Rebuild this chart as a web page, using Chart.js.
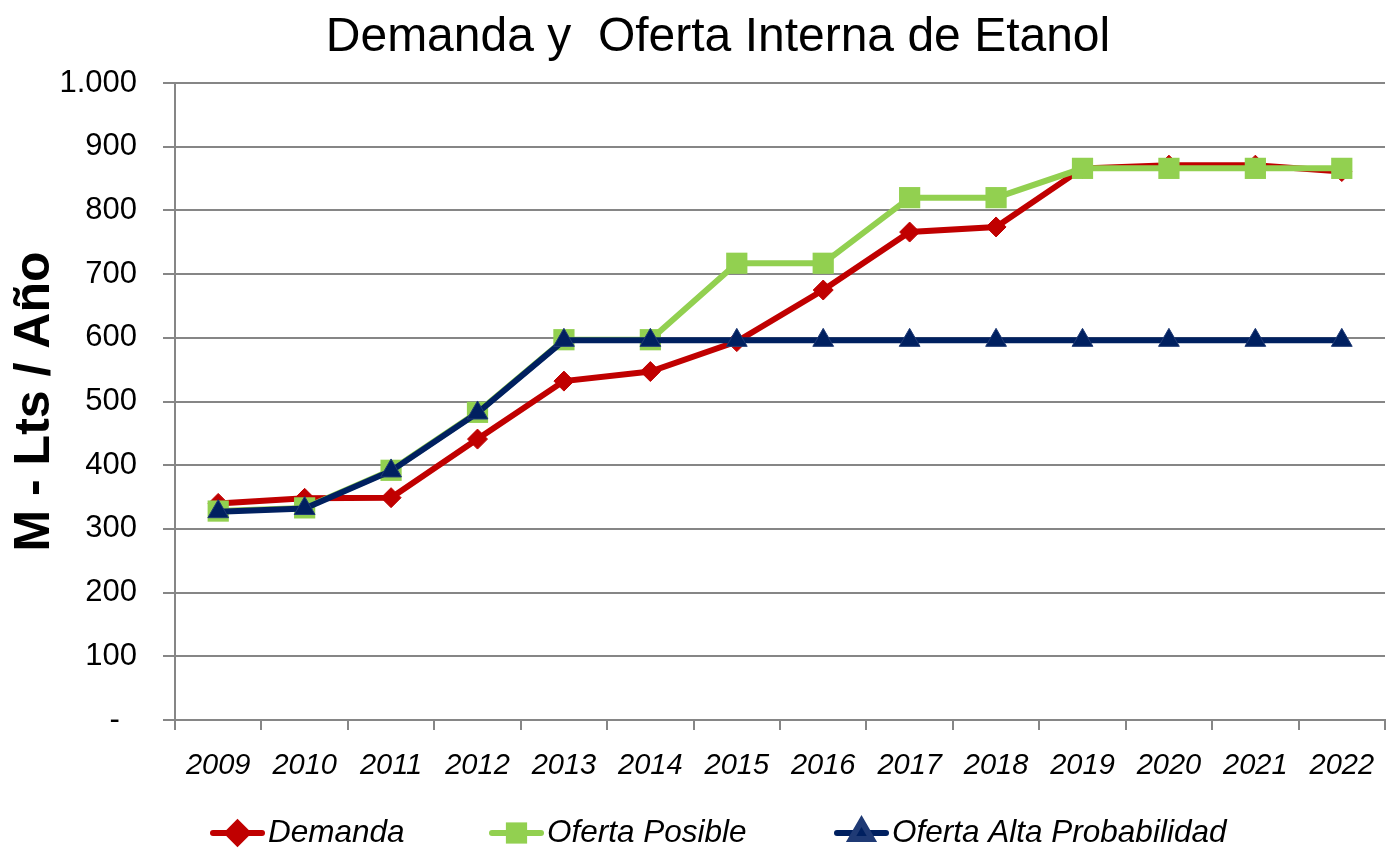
<!DOCTYPE html>
<html>
<head>
<meta charset="utf-8">
<script src="https://cdn.jsdelivr.net/npm/chart.js"></script>
<style>
  html, body { margin: 0; padding: 0; background: #fff; overflow: hidden; }
  #c { display: block; }
</style>
</head>
<body>
<canvas id="c" width="1400" height="848"></canvas>
<script>
const years = ['2009','2010','2011','2012','2013','2014','2015','2016','2017','2018','2019','2020','2021','2022'];
const demanda = [340, 348, 349, 441, 532, 547, 594, 675, 766, 774, 866, 871, 871, 861];
const ofertaPosible = [328, 333, 392, 483, 597, 597, 717, 717, 820, 820, 866, 866, 866, 866];
const ofertaAlta = [327, 332, 391, 482, 596, 596, 596, 596, 596, 596, 596, 596, 596, 596];
const yTickLabels = ['-  ', '100', '200', '300', '400', '500', '600', '700', '800', '900', '1.000'];
const seriesNames = ['Demanda', 'Oferta Posible', 'Oferta Alta Probabilidad'];

const FONT = "'Liberation Sans', Arial, sans-serif";
const GRID = '#868686';

const legendX = [210, 489, 834];
const customLegend = {
  id: 'customLegend',
  afterDraw(chart) {
    const ctx = chart.ctx;
    const y = 833;
    chart.data.datasets.forEach((ds, i) => {
      const x0 = legendX[i];
      ctx.save();
      ctx.strokeStyle = ds.borderColor;
      ctx.lineWidth = 6;
      ctx.lineCap = 'round';
      ctx.beginPath();
      ctx.moveTo(x0 + 3, y);
      ctx.lineTo(x0 + 52, y);
      ctx.stroke();
      ctx.fillStyle = ds.pointBackgroundColor;
      ctx.strokeStyle = ds.pointBorderColor;
      Chart.helpers.drawPoint(ctx, {
        pointStyle: ds.pointStyle,
        radius: ds.pointRadius,
        rotation: 0,
        borderWidth: ds.pointBorderWidth
      }, x0 + 27.5, y);
      ctx.fillStyle = '#000';
      ctx.font = 'italic 31.5px ' + FONT;
      ctx.textBaseline = 'middle';
      ctx.textAlign = 'left';
      ctx.fillText(seriesNames[i], x0 + 58, y);
      ctx.restore();
    });
  }
};

new Chart(document.getElementById('c'), {
  type: 'line',
  data: {
    labels: years,
    datasets: [
      {
        label: seriesNames[0], data: demanda, order: 3,
        borderColor: '#C00000', backgroundColor: '#C00000',
        pointBackgroundColor: '#C00000', pointBorderColor: '#C00000',
        borderWidth: 6, pointStyle: 'rectRot', pointRadius: 10, pointBorderWidth: 1,
        tension: 0, fill: false
      },
      {
        label: seriesNames[1], data: ofertaPosible, order: 2,
        borderColor: '#92D050', backgroundColor: '#92D050',
        pointBackgroundColor: '#92D050', pointBorderColor: '#92D050',
        borderWidth: 6, pointStyle: 'rect', pointRadius: 15, pointBorderWidth: 0,
        tension: 0, fill: false
      },
      {
        label: seriesNames[2], data: ofertaAlta, order: 1,
        borderColor: '#002060', backgroundColor: '#002060',
        pointBackgroundColor: '#002060', pointBorderColor: '#1F3A75',
        borderWidth: 6, pointStyle: 'triangle', pointRadius: 12, pointBorderWidth: 1,
        tension: 0, fill: false
      }
    ]
  },
  options: {
    responsive: false,
    animation: false,
    events: [],
    layout: { padding: { left: 39, right: 3, top: 0, bottom: 48 } },
    plugins: {
      legend: { display: false },
      tooltip: { enabled: false },
      title: {
        display: true,
        text: 'Demanda y  Oferta Interna de Etanol',
        color: '#000',
        font: { size: 48, family: FONT, weight: 'normal', lineHeight: 1.2 },
        padding: { top: 9, bottom: 16.4 }
      }
    },
    scales: {
      x: {
        offset: true,
        grid: { display: true, drawOnChartArea: false, drawTicks: true, tickLength: 10, color: GRID, lineWidth: 2, offset: true },
        border: { display: true, color: GRID, width: 2 },
        ticks: { color: '#000', font: { size: 29, style: 'italic', family: FONT }, padding: 19, maxRotation: 0, autoSkip: false },
        afterFit: (s) => { s.height = 80; }
      },
      y: {
        min: 0, max: 1000,
        grid: { color: GRID, lineWidth: 2, tickLength: 12, drawTicks: true },
        border: { display: true, color: GRID, width: 2 },
        ticks: {
          stepSize: 100, color: '#000', padding: 26,
          font: { size: 31, family: FONT },
          callback: (v, i) => yTickLabels[i]
        },
        title: {
          display: true, text: 'M - Lts / Año', color: '#000',
          font: { size: 50, weight: 'bold', family: FONT, lineHeight: 1 },
          padding: { top: -29, bottom: 0 }
        },
        afterFit: (s) => { s.width = 136; }
      }
    }
  },
  plugins: [customLegend]
});
</script>
</body>
</html>
